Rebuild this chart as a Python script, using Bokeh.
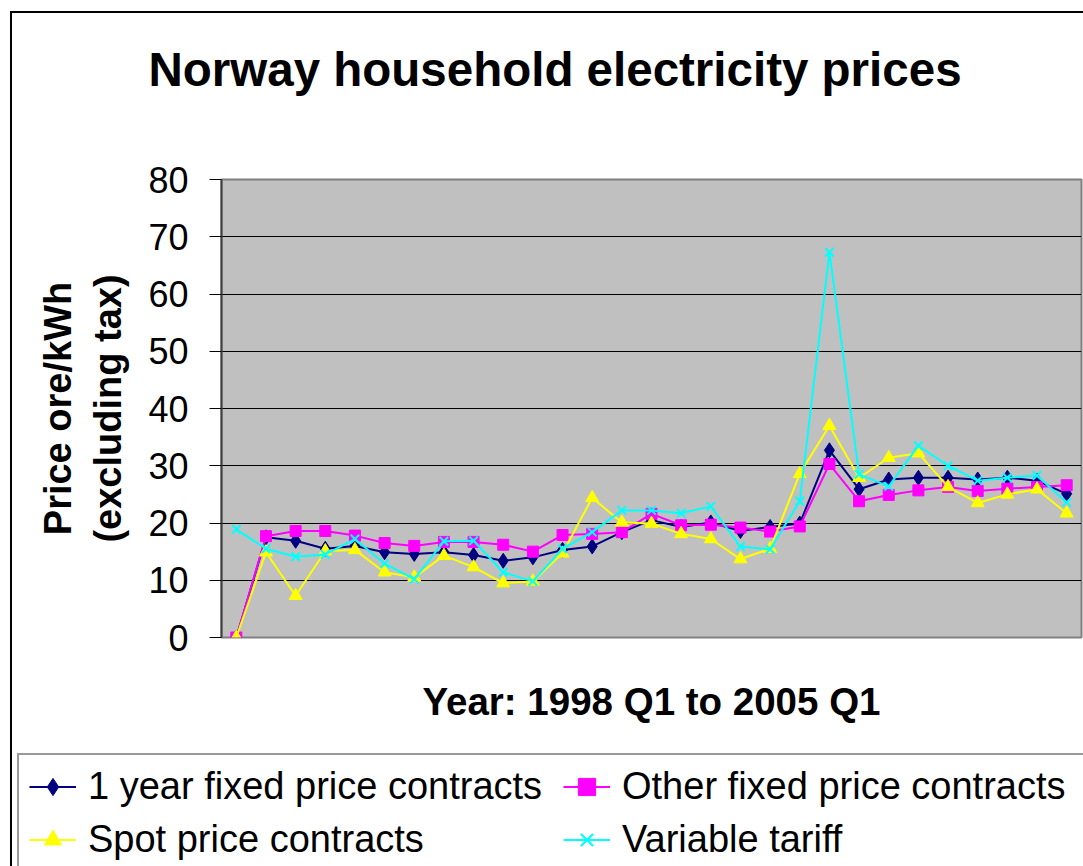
from bokeh.plotting import figure
from bokeh.models import Range1d, FixedTicker, Legend, LegendItem, LinearAxis
from bokeh.embed import file_html
from bokeh.resources import INLINE

quarters = ["1998 Q1", "1998 Q2", "1998 Q3", "1998 Q4",
            "1999 Q1", "1999 Q2", "1999 Q3", "1999 Q4",
            "2000 Q1", "2000 Q2", "2000 Q3", "2000 Q4",
            "2001 Q1", "2001 Q2", "2001 Q3", "2001 Q4",
            "2002 Q1", "2002 Q2", "2002 Q3", "2002 Q4",
            "2003 Q1", "2003 Q2", "2003 Q3", "2003 Q4",
            "2004 Q1", "2004 Q2", "2004 Q3", "2004 Q4",
            "2005 Q1"]

one_year_fixed = [0, 17.5, 16.9, 15.5, 16.0, 14.9, 14.6, 14.9, 14.4, 13.4, 14.0, 15.3,
                  15.9, 18.4, 20.5, 19.3, 20.1, 18.6, 19.3, 19.9, 32.7, 25.9, 27.6,
                  27.9, 27.9, 27.6, 27.9, 27.4, 25.1]
other_fixed = [0, 17.7, 18.6, 18.6, 17.8, 16.5, 16.0, 16.7, 16.7, 16.2, 15.0, 17.9,
               18.1, 18.4, 21.6, 19.6, 19.7, 19.2, 18.5, 19.4, 30.3, 23.8, 24.9,
               25.7, 26.3, 25.6, 26.0, 26.3, 26.6]
spot_price = [0, 14.9, 7.3, 15.1, 15.3, 11.4, 10.5, 14.3, 12.3, 9.5, 9.8, 14.7,
              24.4, 20.1, 19.9, 18.1, 17.2, 13.7, 15.5, 28.6, 37.0, 27.9, 31.4,
              32.2, 26.3, 23.5, 25.0, 25.9, 21.7]
variable_tariff = [18.9, 15.5, 14.1, 14.5, 17.2, 12.9, 10.2, 16.8, 16.9, 11.4, 9.8, 15.5,
                   18.4, 22.2, 22.2, 21.7, 22.9, 15.9, 15.4, 23.8, 67.3, 28.5, 26.4,
                   33.5, 30.0, 27.4, 27.9, 28.3, 23.6]

y_ticks = [0, 10, 20, 30, 40, 50, 60, 70, 80]

FONT = "Liberation Sans"
x_pos = list(range(len(quarters)))  # category slots 1998 Q1 .. 2005 Q1

p = figure(frame_width=860, frame_height=458,
           x_range=Range1d(-0.5, len(quarters) - 0.5),
           y_range=Range1d(0, 80),
           output_backend="svg", toolbar_location=None,
           min_border_left=209, min_border_right=2,
           min_border_top=166, min_border_bottom=116)
p.styles = {"margin-left": "10px", "margin-top": "11px",
            "border-left": "2px solid black", "border-top": "2px solid black"}

p.background_fill_color = "#C0C0C0"
p.border_fill_color = "white"
p.outline_line_color = "#808080"
p.outline_line_width = 2

# Title (outermost element of the top panel)
p.title.text = "Norway household electricity prices"
p.title.text_font = FONT
p.title.text_font_size = "47.5px"
p.title.text_font_style = "bold"
p.title.text_color = "black"
p.title.align = "left"
p.title.offset = -73
p.title.vertical_align = "bottom"
p.title.standoff = 10

# invisible spacer between title and plot area
spacer = LinearAxis(major_tick_out=79, major_tick_in=0, major_tick_line_color=None,
                    minor_tick_line_color=None, axis_line_color=None,
                    major_label_text_color=None, major_label_text_font_size="1px",
                    major_label_standoff=0)
p.add_layout(spacer, "above")

# Y axis
p.yaxis.ticker = FixedTicker(ticks=y_ticks)
p.yaxis.major_label_text_font = FONT
p.yaxis.major_label_text_font_size = "36px"
p.yaxis.major_label_text_color = "black"
p.yaxis.major_tick_in = 0
p.yaxis.major_tick_out = 12
p.yaxis.major_tick_line_color = "black"
p.yaxis.minor_tick_line_color = None
p.yaxis.major_label_standoff = 21
p.yaxis.axis_line_color = "#404040"
p.yaxis.axis_line_width = 2
p.yaxis.axis_label = "Price ore/kWh\n(excluding tax)"
p.yaxis.axis_label_text_font = FONT
p.yaxis.axis_label_text_font_size = "38px"
p.yaxis.axis_label_text_font_style = "bold"
p.yaxis.axis_label_text_color = "black"
p.yaxis.axis_label_standoff = 16

# X axis (category axis, ticks hidden)
xa = p.below[0]
xa.major_tick_out = 0
xa.major_tick_in = 0
xa.major_tick_line_color = None
xa.minor_tick_line_color = None
xa.axis_line_color = None
xa.major_label_text_color = None
xa.major_label_text_font_size = "1px"
xa.major_label_standoff = 0
xa.axis_label = "Year: 1998 Q1 to 2005 Q1"
xa.axis_label_text_font = FONT
xa.axis_label_text_font_size = "38.5px"
xa.axis_label_text_font_style = "bold"
xa.axis_label_text_color = "black"
xa.axis_label_standoff = 38

p.xgrid.grid_line_color = None
p.ygrid.grid_line_color = "black"
p.ygrid.grid_line_width = 1
p.ygrid.ticker = FixedTicker(ticks=y_ticks)

series = [
    ("1 year fixed price contracts", one_year_fixed, "#000080", "diamond", 15),
    ("Other fixed price contracts", other_fixed, "#FF00FF", "square", 11),
    ("Spot price contracts", spot_price, "#FFFF00", "triangle", 13),
    ("Variable tariff", variable_tariff, "#00FFFF", "x", 12),
]

# Legend strip below the chart (same series, drawn outside its visible range)
lg = figure(width=1071, height=113,
            x_range=Range1d(-0.5, len(quarters) - 0.5),
            y_range=Range1d(100, 101),
            x_axis_location=None, y_axis_location=None,
            output_backend="svg", toolbar_location=None,
            min_border_left=0, min_border_right=0,
            min_border_top=0, min_border_bottom=0)
lg.styles = {"margin-left": "10px", "border-left": "2px solid black"}
lg.outline_line_color = None
lg.background_fill_color = "white"
lg.border_fill_color = "white"
lg.grid.visible = False

items = {}
for name, vals, color, marker, size in series:
    p.line(x_pos, vals, line_color=color, line_width=2)
    p.scatter(x_pos, vals, marker=marker, size=size, fill_color=color,
              line_color=color, line_width=2 if marker == "x" else 1)
    ln = lg.line(x_pos, vals, line_color=color, line_width=2)
    sc = lg.scatter(x_pos, vals, marker=marker, size=size, fill_color=color,
                    line_color=color, line_width=2 if marker == "x" else 1)
    items[name] = LegendItem(label=name, renderers=[ln, sc])

legend = Legend(items=[items["1 year fixed price contracts"], items["Spot price contracts"],
                       items["Other fixed price contracts"], items["Variable tariff"]],
                ncols=2, location=(5, -7),
                label_text_font=FONT, label_text_font_size="38px",
                label_text_color="black",
                glyph_width=47, glyph_height=43, label_height=43,
                label_width=465,
                label_standoff=12, spacing=10, padding=10, margin=0,
                border_line_color="#333333", border_line_width=2,
                background_fill_color="white", background_fill_alpha=1)
lg.add_layout(legend, "center")

open("out.html", "w").write(file_html([p, lg], INLINE))
